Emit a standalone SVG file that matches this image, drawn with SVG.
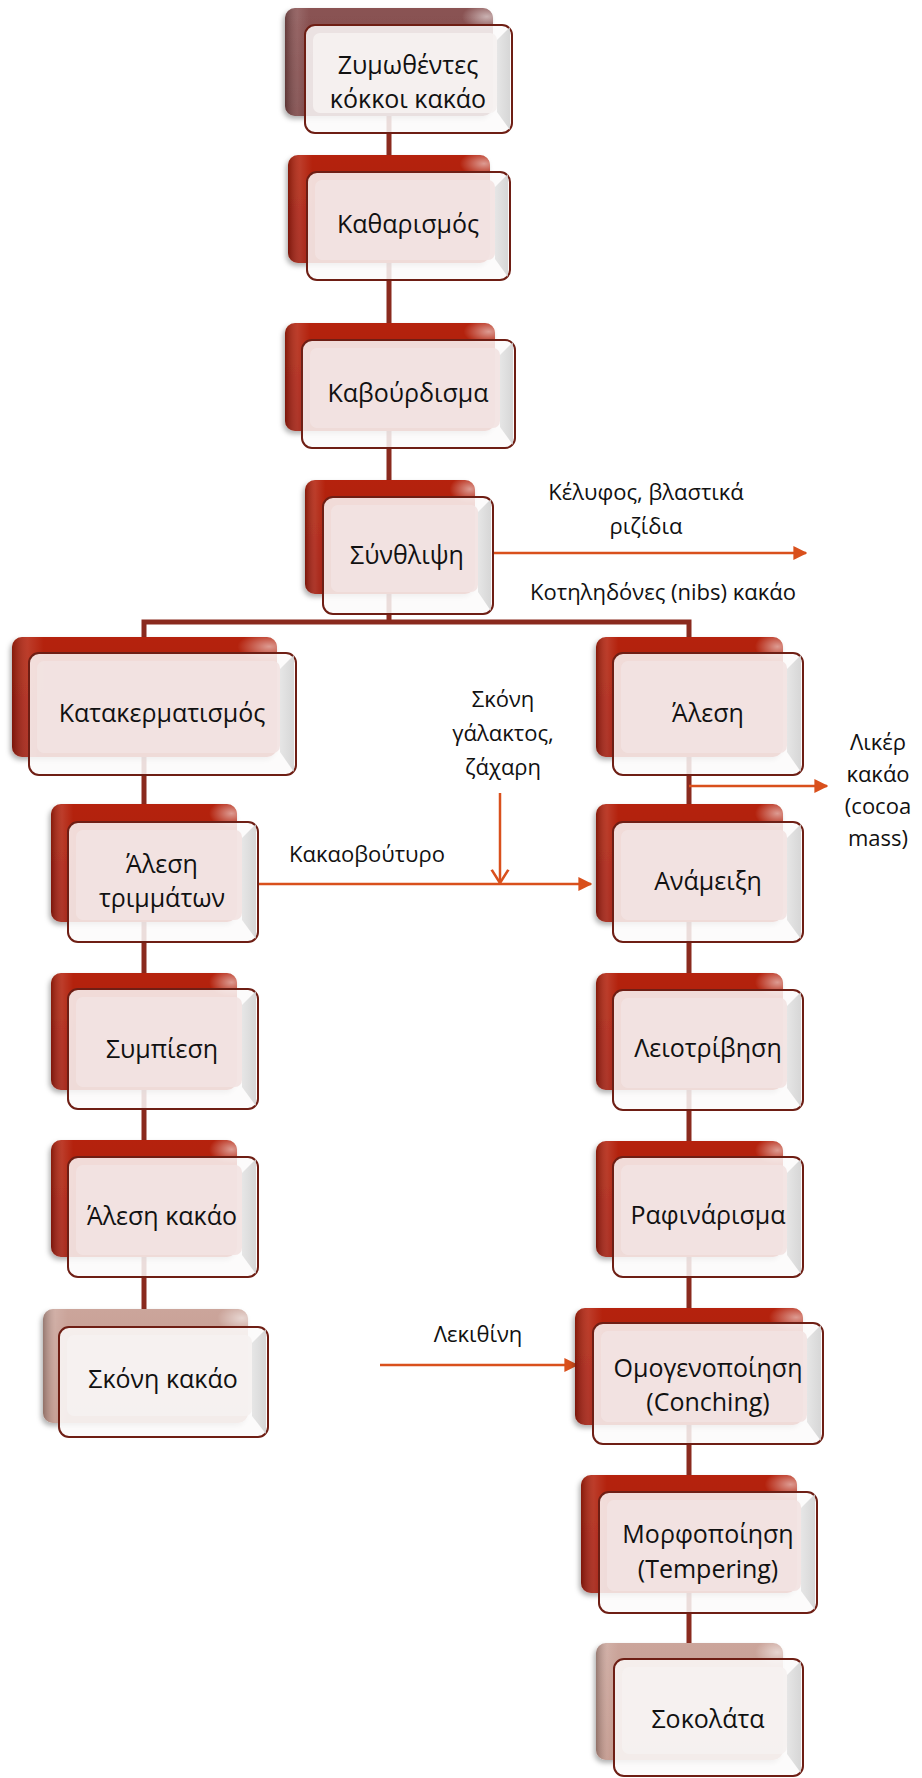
<svg xmlns="http://www.w3.org/2000/svg" width="922" height="1778" viewBox="0 0 922 1778">
<defs>
<linearGradient id="gRed" x1="0" y1="0" x2="0" y2="1">
<stop offset="0" stop-color="#B5230E"/><stop offset="1" stop-color="#A11B0A"/>
</linearGradient>
<linearGradient id="gMauve" x1="0" y1="0" x2="0" y2="1">
<stop offset="0" stop-color="#8A5353"/><stop offset="1" stop-color="#7A4444"/>
</linearGradient>
<linearGradient id="gTan" x1="0" y1="0" x2="0" y2="1">
<stop offset="0" stop-color="#CBA59B"/><stop offset="1" stop-color="#C09488"/>
</linearGradient>
<radialGradient id="gShine" cx="0.97" cy="0.08" r="0.12">
<stop offset="0" stop-color="#FFFFFF" stop-opacity="0.55"/><stop offset="1" stop-color="#FFFFFF" stop-opacity="0"/>
</radialGradient>
<linearGradient id="gEdge" x1="0" y1="0" x2="1" y2="0">
<stop offset="0" stop-color="#000000" stop-opacity="0.25"/><stop offset="0.06" stop-color="#FFFFFF" stop-opacity="0.12"/><stop offset="0.12" stop-color="#FFFFFF" stop-opacity="0"/>
</linearGradient>
<linearGradient id="gRight" x1="0" y1="0" x2="1" y2="0">
<stop offset="0" stop-color="#E2E2E2"/><stop offset="1" stop-color="#D0D0D0"/>
</linearGradient>
<filter id="sh" x="-10%" y="-10%" width="125%" height="130%">
<feDropShadow dx="-2" dy="3" stdDeviation="2.5" flood-color="#000" flood-opacity="0.3"/>
</filter>
<marker id="ah" viewBox="0 0 10 10" refX="9" refY="5" markerWidth="14" markerHeight="14" markerUnits="userSpaceOnUse" orient="auto">
<path d="M0,0 L10,5 L0,10 z" fill="#D9501C"/>
</marker>
<marker id="av" viewBox="0 0 12 12" refX="11" refY="6" markerWidth="16" markerHeight="20" markerUnits="userSpaceOnUse" orient="auto" preserveAspectRatio="none">
<path d="M1,1 L11,6 L1,11" fill="none" stroke="#D9501C" stroke-width="1.6"/>
</marker>
</defs>
<style>
.back{fill:url(#gRed);filter:url(#sh)}
.mauve{fill:url(#gMauve);filter:url(#sh)}
.tan{fill:url(#gTan);filter:url(#sh)}
.shine{fill:url(#gShine)}
.edge{fill:url(#gEdge)}
.front{fill:#FCFAFA;fill-opacity:0.86;stroke:#6E1E14;stroke-width:2}
.rbev{fill:url(#gRight);opacity:0.85}
.face{fill:#F2E3E2;fill-opacity:0.92}
.facel{fill:#F5F1F0;fill-opacity:0.92}
.t{font-family:"Open Sans","DejaVu Sans",sans-serif;font-size:25px;fill:#111;text-anchor:middle}
.l{font-family:"Open Sans","DejaVu Sans",sans-serif;font-size:22px;fill:#111;text-anchor:middle}
.conn{fill:none;stroke:#8A2A1E;stroke-width:5}
.arr{fill:none;stroke:#D9501C;stroke-width:2.5}
</style>
<rect width="922" height="1778" fill="#FFFFFF"/>

<g id="connectors">
<path class="conn" d="M389 100 V622"/>
<path class="conn" d="M144 1330 V622 H689 V1660"/>
<path class="arr" d="M493 553 H806" marker-end="url(#ah)"/>
<path class="arr" d="M689 786 H827" marker-end="url(#ah)"/>
<path class="arr" d="M258 884 H591" marker-end="url(#ah)"/>
<path class="arr" d="M500 793 V883" marker-end="url(#av)"/>
<path class="arr" d="M380 1365 H577" marker-end="url(#ah)"/>
</g>

<g id="labels">
<text class="l" x="646" y="500">Κέλυφος, βλαστικά</text>
<text class="l" x="646" y="534">ριζίδια</text>
<text class="l" x="663" y="600">Κοτηληδόνες (nibs) κακάο</text>
<text class="l" x="503" y="707">Σκόνη</text>
<text class="l" x="503" y="741">γάλακτος,</text>
<text class="l" x="503" y="775">ζάχαρη</text>
<text class="l" x="878" y="750">Λικέρ</text>
<text class="l" x="878" y="782">κακάο</text>
<text class="l" x="878" y="814">(cocoa</text>
<text class="l" x="878" y="846">mass)</text>
<text class="l" x="367" y="862">Κακαοβούτυρο</text>
<text class="l" x="478" y="1342">Λεκιθίνη</text>
</g>

<g id="n1">
<rect class="mauve" x="285" y="8" width="208" height="108" rx="10"/>
<rect class="shine" x="285" y="8" width="208" height="108" rx="10"/>
<rect class="edge" x="285" y="8" width="208" height="108" rx="10"/>
<rect class="front" x="305" y="25" width="207" height="108" rx="10"/>
<path class="rbev" d="M510 27 L497 40 L497 112 L510 130 Z"/>
<rect class="facel" x="313" y="33" width="184" height="80" rx="7"/>
<text class="t" x="408" y="74">Ζυμωθέντες</text>
<text class="t" x="408" y="108">κόκκοι κακάο</text>
</g>

<g id="n2">
<rect class="back" x="288" y="155" width="202" height="108" rx="10"/>
<rect class="shine" x="288" y="155" width="202" height="108" rx="10"/>
<rect class="edge" x="288" y="155" width="202" height="108" rx="10"/>
<rect class="front" x="307" y="172" width="203" height="108" rx="10"/>
<path class="rbev" d="M508 174 L495 187 L495 259 L508 277 Z"/>
<rect class="face" x="315" y="180" width="180" height="80" rx="7"/>
<text class="t" x="408" y="233">Καθαρισμός</text>
</g>

<g id="n3">
<rect class="back" x="285" y="323" width="210" height="108" rx="10"/>
<rect class="shine" x="285" y="323" width="210" height="108" rx="10"/>
<rect class="edge" x="285" y="323" width="210" height="108" rx="10"/>
<rect class="front" x="302" y="340" width="213" height="108" rx="10"/>
<path class="rbev" d="M513 342 L500 355 L500 427 L513 445 Z"/>
<rect class="face" x="310" y="348" width="190" height="80" rx="7"/>
<text class="t" x="408" y="402">Καβούρδισμα</text>
</g>

<g id="n4">
<rect class="back" x="305" y="480" width="170" height="114" rx="10"/>
<rect class="shine" x="305" y="480" width="170" height="114" rx="10"/>
<rect class="edge" x="305" y="480" width="170" height="114" rx="10"/>
<rect class="front" x="323" y="497" width="170" height="117" rx="10"/>
<path class="rbev" d="M491 499 L478 512 L478 592 L491 611 Z"/>
<rect class="face" x="331" y="505" width="147" height="87" rx="7"/>
<text class="t" x="407" y="564">Σύνθλιψη</text>
</g>

<g id="n5">
<rect class="back" x="12" y="637" width="265" height="120" rx="10"/>
<rect class="shine" x="12" y="637" width="265" height="120" rx="10"/>
<rect class="edge" x="12" y="637" width="265" height="120" rx="10"/>
<rect class="front" x="29" y="653" width="267" height="122" rx="10"/>
<path class="rbev" d="M294 655 L280 669 L280 752 L294 772 Z"/>
<rect class="face" x="37" y="661" width="243" height="92" rx="7"/>
<text class="t" x="162" y="722">Κατακερματισμός</text>
</g>

<g id="n6">
<rect class="back" x="51" y="804" width="186" height="118" rx="10"/>
<rect class="shine" x="51" y="804" width="186" height="118" rx="10"/>
<rect class="edge" x="51" y="804" width="186" height="118" rx="10"/>
<rect class="front" x="68" y="822" width="190" height="120" rx="10"/>
<path class="rbev" d="M256 824 L242 838 L242 920 L256 939 Z"/>
<rect class="face" x="76" y="830" width="166" height="90" rx="7"/>
<text class="t" x="162" y="873">Άλεση</text>
<text class="t" x="162" y="907">τριμμάτων</text>
</g>

<g id="n7">
<rect class="back" x="51" y="973" width="186" height="117" rx="10"/>
<rect class="shine" x="51" y="973" width="186" height="117" rx="10"/>
<rect class="edge" x="51" y="973" width="186" height="117" rx="10"/>
<rect class="front" x="68" y="989" width="190" height="120" rx="10"/>
<path class="rbev" d="M256 991 L242 1005 L242 1087 L256 1106 Z"/>
<rect class="face" x="76" y="997" width="166" height="90" rx="7"/>
<text class="t" x="162" y="1058">Συμπίεση</text>
</g>

<g id="n8">
<rect class="back" x="51" y="1140" width="186" height="117" rx="10"/>
<rect class="shine" x="51" y="1140" width="186" height="117" rx="10"/>
<rect class="edge" x="51" y="1140" width="186" height="117" rx="10"/>
<rect class="front" x="68" y="1157" width="190" height="120" rx="10"/>
<path class="rbev" d="M256 1159 L242 1173 L242 1255 L256 1274 Z"/>
<rect class="face" x="76" y="1165" width="166" height="90" rx="7"/>
<text class="t" x="162" y="1225">Άλεση κακάο</text>
</g>

<g id="n9">
<rect class="tan" x="43" y="1309" width="205" height="114" rx="10"/>
<rect class="shine" x="43" y="1309" width="205" height="114" rx="10"/>
<rect class="edge" x="43" y="1309" width="205" height="114" rx="10"/>
<rect class="front" x="59" y="1327" width="209" height="110" rx="10"/>
<path class="rbev" d="M266 1329 L252 1343 L252 1416 L266 1434 Z"/>
<rect class="facel" x="67" y="1335" width="185" height="81" rx="7"/>
<text class="t" x="163" y="1388">Σκόνη κακάο</text>
</g>

<g id="n10">
<rect class="back" x="596" y="637" width="187" height="120" rx="10"/>
<rect class="shine" x="596" y="637" width="187" height="120" rx="10"/>
<rect class="edge" x="596" y="637" width="187" height="120" rx="10"/>
<rect class="front" x="613" y="653" width="190" height="122" rx="10"/>
<path class="rbev" d="M801 655 L787 669 L787 752 L801 772 Z"/>
<rect class="face" x="621" y="661" width="166" height="92" rx="7"/>
<text class="t" x="708" y="722">Άλεση</text>
</g>

<g id="n11">
<rect class="back" x="596" y="804" width="187" height="118" rx="10"/>
<rect class="shine" x="596" y="804" width="187" height="118" rx="10"/>
<rect class="edge" x="596" y="804" width="187" height="118" rx="10"/>
<rect class="front" x="613" y="822" width="190" height="120" rx="10"/>
<path class="rbev" d="M801 824 L787 838 L787 920 L801 939 Z"/>
<rect class="face" x="621" y="830" width="166" height="90" rx="7"/>
<text class="t" x="708" y="890">Ανάμειξη</text>
</g>

<g id="n12">
<rect class="back" x="596" y="973" width="187" height="117" rx="10"/>
<rect class="shine" x="596" y="973" width="187" height="117" rx="10"/>
<rect class="edge" x="596" y="973" width="187" height="117" rx="10"/>
<rect class="front" x="613" y="990" width="190" height="120" rx="10"/>
<path class="rbev" d="M801 992 L787 1006 L787 1088 L801 1107 Z"/>
<rect class="face" x="621" y="998" width="166" height="90" rx="7"/>
<text class="t" x="708" y="1057">Λειοτρίβηση</text>
</g>

<g id="n13">
<rect class="back" x="596" y="1141" width="187" height="116" rx="10"/>
<rect class="shine" x="596" y="1141" width="187" height="116" rx="10"/>
<rect class="edge" x="596" y="1141" width="187" height="116" rx="10"/>
<rect class="front" x="613" y="1157" width="190" height="120" rx="10"/>
<path class="rbev" d="M801 1159 L787 1173 L787 1255 L801 1274 Z"/>
<rect class="face" x="621" y="1165" width="166" height="90" rx="7"/>
<text class="t" x="708" y="1224">Ραφινάρισμα</text>
</g>

<g id="n14">
<rect class="back" x="575" y="1308" width="228" height="117" rx="10"/>
<rect class="shine" x="575" y="1308" width="228" height="117" rx="10"/>
<rect class="edge" x="575" y="1308" width="228" height="117" rx="10"/>
<rect class="front" x="593" y="1323" width="230" height="121" rx="10"/>
<path class="rbev" d="M821 1325 L807 1339 L807 1422 L821 1441 Z"/>
<rect class="face" x="601" y="1331" width="206" height="91" rx="7"/>
<text class="t" x="708" y="1377">Ομογενοποίηση</text>
<text class="t" x="708" y="1411">(Conching)</text>
</g>

<g id="n15">
<rect class="back" x="581" y="1475" width="216" height="118" rx="10"/>
<rect class="shine" x="581" y="1475" width="216" height="118" rx="10"/>
<rect class="edge" x="581" y="1475" width="216" height="118" rx="10"/>
<rect class="front" x="599" y="1492" width="218" height="121" rx="10"/>
<path class="rbev" d="M815 1494 L801 1508 L801 1591 L815 1610 Z"/>
<rect class="face" x="607" y="1500" width="194" height="91" rx="7"/>
<text class="t" x="708" y="1543">Μορφοποίηση</text>
<text class="t" x="708" y="1578">(Tempering)</text>
</g>

<g id="n16">
<rect class="tan" x="596" y="1643" width="187" height="117" rx="10"/>
<rect class="shine" x="596" y="1643" width="187" height="117" rx="10"/>
<rect class="edge" x="596" y="1643" width="187" height="117" rx="10"/>
<rect class="front" x="614" y="1659" width="189" height="117" rx="10"/>
<path class="rbev" d="M801 1661 L787 1675 L787 1754 L801 1773 Z"/>
<rect class="facel" x="622" y="1667" width="165" height="87" rx="7"/>
<text class="t" x="708" y="1728">Σοκολάτα</text>
</g>
</svg>
